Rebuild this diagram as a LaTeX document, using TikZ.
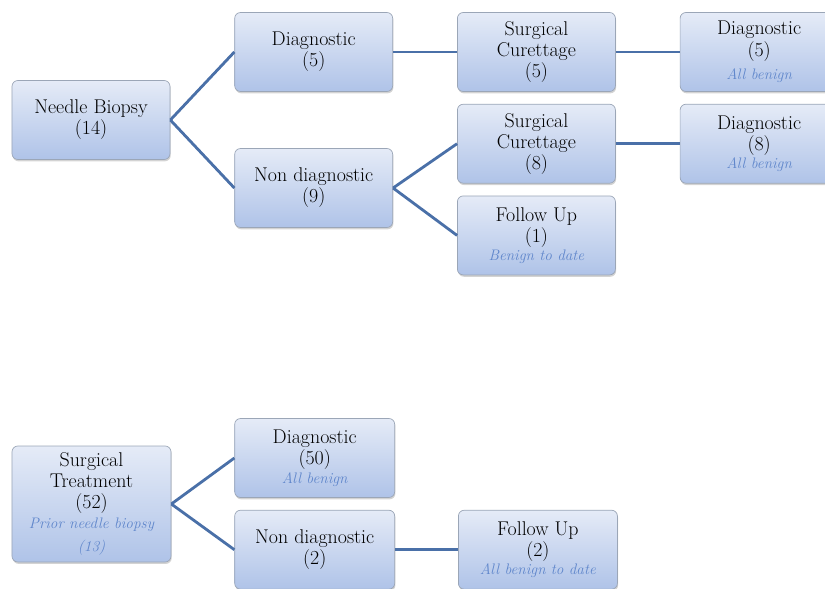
\documentclass[tikz,border=0pt]{standalone}
\usepackage{xcolor}
\usepackage{tikz}
\usetikzlibrary{positioning, shadows}
\definecolor{boxtop}{HTML}{E5EBF7}
\definecolor{boxbottom}{HTML}{AFC3E8}
\definecolor{boxline}{HTML}{9BA6B7}
\definecolor{linkblue}{HTML}{4A70A8}
\definecolor{noteblue}{HTML}{5F86CB}
\newcommand{\subnote}[1]{{\fontsize{13}{15}\selectfont\itshape\color{noteblue}#1}}
\tikzset{
  stagebox/.style={draw=boxline, line width=0.6pt, rounded corners=5pt,
                   top color=boxtop, bottom color=boxbottom, align=center,
                   font=\fontsize{17}{18}\selectfont, inner sep=2pt,
                   minimum width=4.74cm, minimum height=2.37cm,
                   drop shadow={opacity=0.35, shadow xshift=0.6pt, shadow yshift=-1.6pt}},
  link/.style={linkblue, line width=2.4pt}
}

\begin{document}
\begin{tikzpicture}[
  node distance=0.36cm and 1.92cm,
  tallbox/.style={stagebox, minimum height=3.48cm, minimum width=4.77cm},
]
\useasboundingbox (0,0) rectangle (24.75,-17.64);

% Needle biopsy branch
\node[stagebox] (biopsy) at (2.73,-3.6) {Needle Biopsy\\(14)};
\node[stagebox, right=of biopsy, yshift=2.04cm]  (diag)    {Diagnostic\\(5)};
\node[stagebox, right=of biopsy, yshift=-2.04cm] (nondiag) {Non diagnostic\\(9)};
\node[stagebox, right=of diag]     (curA)   {Surgical\\Curettage\\(5)};
\node[stagebox, below=of curA]     (curB)   {Surgical\\Curettage\\(8)};
\node[stagebox, below=of curB]     (follow) {Follow Up\\(1)\\[-3pt]\subnote{Benign to date}};
\node[stagebox, right=of curA]     (resA)   {Diagnostic\\(5)\\[2pt]\subnote{All benign}};
\node[stagebox, right=of curB]     (resB)   {Diagnostic\\(8)\\[-3pt]\subnote{All benign}};

% Surgical treatment branch
\node[tallbox] (surgery) at (2.745,-15.12) {Surgical\\Treatment\\(52)\\[-1pt]\subnote{Prior needle biopsy}\\[2pt]\subnote{(13)}};
\node[stagebox, minimum width=4.8cm, right=1.89cm of surgery, yshift=1.38cm] (sdiag) {Diagnostic\\(50)\\[-2pt]\subnote{All benign}};
\node[stagebox, minimum width=4.8cm, below=of sdiag] (snondiag) {Non diagnostic\\(2)};
\node[stagebox, minimum width=4.77cm, right=1.89cm of snondiag] (sfollow) {Follow Up\\(2)\\[-2pt]\subnote{All benign to date}};

% Links
\draw[link] (biopsy.east) -- (diag.west);
\draw[link] (biopsy.east) -- (nondiag.west);
\draw[link] (diag) -- (curA);
\draw[link] (nondiag.east) -- (curB.west);
\draw[link] (nondiag.east) -- (follow.west);
\draw[link] (curA) -- (resA);
\draw[link] (curB) -- (resB);
\draw[link] (surgery.east) -- (sdiag.west);
\draw[link] (surgery.east) -- (snondiag.west);
\draw[link] (snondiag) -- (sfollow);

\end{tikzpicture}
\end{document}
